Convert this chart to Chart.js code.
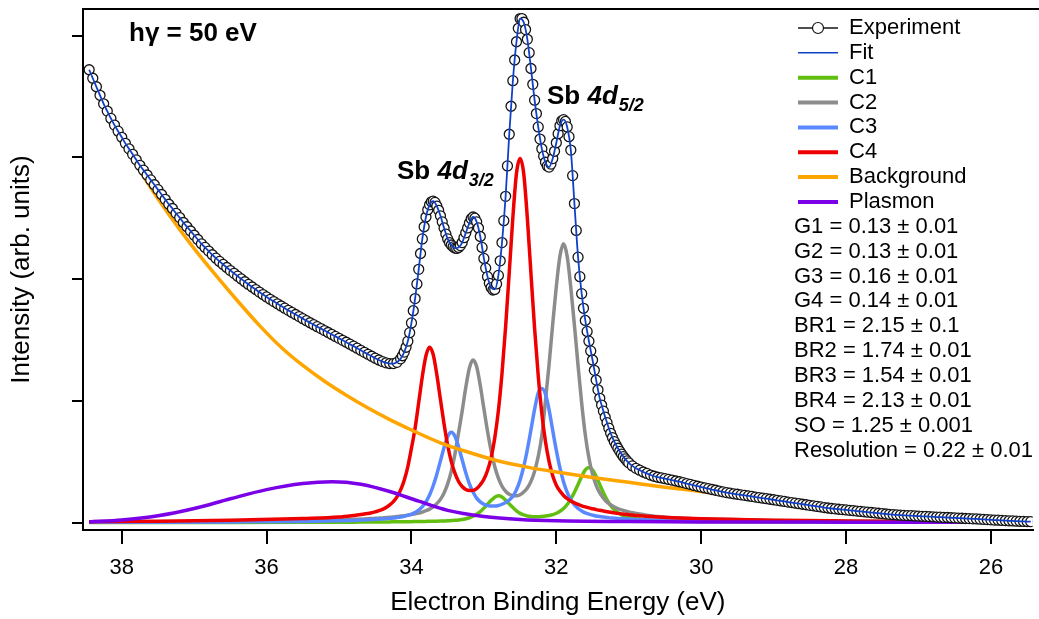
<!DOCTYPE html>
<html>
<head>
<meta charset="utf-8">
<script src="https://cdn.jsdelivr.net/npm/chart.js@4.4.1/dist/chart.umd.min.js"></script>
<style>
  html, body { margin: 0; padding: 0; background: #fff; }
  #spectrum { display: block; }
</style>
</head>
<body>
<canvas id="spectrum" width="1039" height="619"></canvas>
<script>
// binding energy axis (eV), drawn high -> low
const xTicks = [38, 36, 34, 32, 30, 28, 26];
const yTicks = [0, 1, 2, 3, 4];

// experiment, sampled every 0.05 eV from 38.45 eV down to 25.45 eV
const expStart = 38.45, expEnd = 25.45, expStep = 0.05;
const experiment = [
  3.72, 3.65, 3.58, 3.51, 3.44, 3.38, 3.32, 3.265, 3.215, 3.165,
  3.115, 3.07, 3.025, 2.98, 2.935, 2.895, 2.855, 2.815, 2.775, 2.735,
  2.695, 2.655, 2.615, 2.58, 2.54, 2.505, 2.465, 2.43, 2.395, 2.36,
  2.325, 2.29, 2.26, 2.23, 2.20, 2.172, 2.145, 2.12, 2.095, 2.07,
  2.047, 2.024, 2.001, 1.978, 1.956, 1.935, 1.914, 1.893, 1.873, 1.853,
  1.834, 1.815, 1.797, 1.779, 1.761, 1.743, 1.726, 1.709, 1.692, 1.675,
  1.658, 1.641, 1.625, 1.609, 1.593, 1.577, 1.561, 1.545, 1.529, 1.513,
  1.497, 1.481, 1.465, 1.449, 1.432, 1.415, 1.398,
  // 34.60 .. 30.60
  1.382, 1.366, 1.350, 1.335, 1.322, 1.312, 1.306, 1.306, 1.316, 1.345,
  1.40, 1.49, 1.64, 1.84, 2.08, 2.33, 2.51, 2.61, 2.64, 2.60,
  2.52, 2.42, 2.33, 2.28, 2.255, 2.26, 2.30, 2.38, 2.46, 2.51,
  2.47, 2.35, 2.17, 2.02, 1.93, 1.915, 2.03, 2.30, 2.68, 3.19,
  3.63, 3.95, 4.14, 4.11, 3.97, 3.73, 3.47, 3.25, 3.07, 2.96,
  2.92, 2.99, 3.12, 3.26, 3.31, 3.25, 3.06, 2.62, 2.18, 1.88,
  1.66, 1.49, 1.335, 1.17, 1.02, 0.915, 0.82, 0.733, 0.665, 0.61,
  0.562, 0.523, 0.49, 0.465, 0.445, 0.43, 0.415, 0.403, 0.39, 0.38,
  0.372,
  // 30.55 .. 25.45
  0.366, 0.360, 0.354, 0.348, 0.341, 0.335, 0.328, 0.320, 0.313, 0.305,
  0.298, 0.291, 0.284, 0.278, 0.271, 0.265, 0.258, 0.252, 0.246, 0.241,
  0.236, 0.232, 0.227, 0.223, 0.218, 0.214, 0.209, 0.205, 0.200, 0.196,
  0.191, 0.187, 0.182, 0.177, 0.173, 0.168, 0.164, 0.159, 0.155, 0.150,
  0.146, 0.141, 0.137, 0.132, 0.128, 0.123, 0.119, 0.115, 0.112, 0.109,
  0.106, 0.103, 0.100, 0.097, 0.094, 0.091, 0.088, 0.085, 0.082, 0.079,
  0.076, 0.073, 0.070, 0.067, 0.065, 0.062, 0.060, 0.059, 0.057, 0.056,
  0.054, 0.053, 0.051, 0.050, 0.048, 0.047, 0.045, 0.044, 0.042, 0.041,
  0.039, 0.038, 0.036, 0.035, 0.033, 0.032, 0.030, 0.029, 0.027, 0.026,
  0.024, 0.022, 0.020, 0.019, 0.017, 0.016, 0.014, 0.013, 0.011, 0.010,
  0.009, 0.008, 0.007
];
// extra experiment points in the peak region, 34.125 .. 31.025 eV
const midStart = 34.125, midEnd = 31.025;
const experimentMid = [
  1.37, 1.44, 1.56, 1.74, 1.96, 2.21, 2.43, 2.57, 2.635, 2.63,
  2.565, 2.47, 2.37, 2.30, 2.265, 2.252, 2.275, 2.34, 2.42, 2.495,
  2.50, 2.42, 2.26, 2.09, 1.965, 1.91, 1.96, 2.15, 2.48, 2.93,
  3.42, 3.80, 4.06, 4.14, 4.05, 3.86, 3.60, 3.36, 3.15, 3.01,
  2.93, 2.945, 3.05, 3.195, 3.30, 3.295, 3.17, 2.85, 2.40, 2.02,
  1.76, 1.57, 1.41, 1.25, 1.09, 0.965, 0.865, 0.775, 0.698, 0.636,
  0.585, 0.542, 0.506
];
const fit = experiment;

// components: tails + 0.05 eV grid 34.60 .. 30.60 + tails
const peakLeft = [38.45, 37.5, 36.5, 35.5, 35.0, 34.8];
const peakRight = [30.4, 30.0, 29.0, 28.0, 27.0, 26.0, 25.45];

const c1 = [
  0.001, 0.001, 0.001, 0.002, 0.003, 0.003,
  0.004, 0.004, 0.004, 0.005, 0.005, 0.005, 0.005, 0.006, 0.006, 0.006,
  0.006, 0.007, 0.007, 0.008, 0.008, 0.009, 0.009, 0.010, 0.010, 0.011,
  0.012, 0.013, 0.014, 0.016, 0.018, 0.021, 0.025, 0.031, 0.039, 0.051,
  0.068, 0.090, 0.118, 0.150, 0.182, 0.208, 0.219, 0.210, 0.184, 0.153,
  0.123, 0.096, 0.075, 0.062, 0.054, 0.050, 0.048, 0.048, 0.050, 0.053,
  0.058, 0.065, 0.076, 0.092, 0.115, 0.148, 0.192, 0.248, 0.312, 0.379,
  0.432, 0.452, 0.432, 0.378, 0.311, 0.245, 0.187, 0.140, 0.105, 0.080,
  0.063, 0.051, 0.043, 0.037, 0.032, 0.028, 0.025, 0.023, 0.021, 0.019,
  0.017,
  0.012, 0.008, 0.005, 0.003, 0.002, 0.002, 0.001
];
const c2 = [
  0.004, 0.006, 0.009, 0.015, 0.021, 0.026,
  0.031, 0.033, 0.034, 0.036, 0.038, 0.041, 0.043, 0.046, 0.050, 0.053,
  0.056, 0.061, 0.065, 0.071, 0.077, 0.086, 0.097, 0.110, 0.129, 0.155,
  0.190, 0.243, 0.317, 0.421, 0.562, 0.737, 0.915, 1.11, 1.27, 1.335,
  1.28, 1.125, 0.935, 0.750, 0.588, 0.458, 0.365, 0.298, 0.257, 0.232,
  0.221, 0.219, 0.228, 0.251, 0.284, 0.338, 0.420, 0.543, 0.716, 1.00,
  1.30, 1.63, 1.94, 2.19, 2.29, 2.185, 1.93, 1.62, 1.29, 0.98,
  0.72, 0.53, 0.395, 0.305, 0.243, 0.200, 0.167, 0.146, 0.128, 0.114,
  0.104, 0.095, 0.087, 0.080, 0.074, 0.069, 0.065, 0.060, 0.056, 0.052,
  0.049,
  0.040, 0.030, 0.017, 0.011, 0.008, 0.006, 0.005
];
const c3 = [
  0.002, 0.003, 0.005, 0.009, 0.014, 0.017,
  0.022, 0.024, 0.026, 0.028, 0.029, 0.032, 0.034, 0.037, 0.041, 0.045,
  0.051, 0.058, 0.069, 0.082, 0.101, 0.130, 0.170, 0.226, 0.302, 0.397,
  0.506, 0.617, 0.706, 0.741, 0.709, 0.623, 0.515, 0.409, 0.317, 0.25,
  0.20, 0.17, 0.15, 0.14, 0.135, 0.135, 0.14, 0.15, 0.165, 0.185,
  0.215, 0.27, 0.35, 0.46, 0.60, 0.763, 0.930, 1.063, 1.10, 1.055,
  0.926, 0.757, 0.592, 0.448, 0.333, 0.248, 0.187, 0.144, 0.115, 0.095,
  0.079, 0.069, 0.061, 0.054, 0.050, 0.045, 0.042, 0.038, 0.036, 0.033,
  0.031, 0.029, 0.028, 0.026, 0.025, 0.024, 0.023, 0.022, 0.021, 0.020,
  0.019,
  0.017, 0.013, 0.008, 0.005, 0.004, 0.003, 0.002
];
const c4 = [
  0.006, 0.010, 0.018, 0.033, 0.045, 0.058,
  0.074, 0.080, 0.087, 0.097, 0.108, 0.123, 0.144, 0.171, 0.210, 0.268,
  0.348, 0.459, 0.611, 0.775, 0.985, 1.20, 1.37, 1.44, 1.38, 1.215,
  1.01, 0.81, 0.635, 0.500, 0.405, 0.337, 0.296, 0.271, 0.263, 0.264,
  0.278, 0.310, 0.355, 0.427, 0.534, 0.694, 0.919, 1.226, 1.610, 2.054,
  2.508, 2.870, 2.99, 2.866, 2.500, 2.043, 1.595, 1.206, 0.895, 0.665,
  0.500, 0.385, 0.307, 0.258, 0.222, 0.196, 0.177, 0.161, 0.148, 0.137,
  0.128, 0.120, 0.113, 0.106, 0.100, 0.094, 0.089, 0.084, 0.079, 0.075,
  0.071, 0.067, 0.064, 0.061, 0.058, 0.056, 0.053, 0.051, 0.049, 0.047,
  0.045,
  0.039, 0.031, 0.019, 0.013, 0.009, 0.006, 0.005
];

const bgE = [38.45, 38.2, 37.9, 37.6, 37.3, 37.0, 36.7, 36.4, 36.1, 35.8, 35.5, 35.2,
  34.9, 34.6, 34.3, 34.0, 33.6, 33.2, 32.8, 32.4, 32.0, 31.5, 31.0, 30.5, 30.0,
  29.5, 29.0, 28.5, 28.0, 27.5, 27.0, 26.5, 26.0, 25.45];
const background = [3.71, 3.37, 3.04, 2.75, 2.49, 2.25, 2.03, 1.82, 1.62, 1.44, 1.29, 1.16,
  1.045, 0.94, 0.845, 0.76, 0.655, 0.575, 0.505, 0.455, 0.415, 0.37, 0.33, 0.29, 0.255,
  0.215, 0.175, 0.14, 0.105, 0.075, 0.05, 0.03, 0.018, 0.008];

const plasmonE = [38.45, 38.0, 37.5, 37.0, 36.5, 36.0, 35.5, 35.1, 34.7, 34.3, 33.9,
  33.5, 33.0, 32.5, 32.0, 31.0, 30.0, 28.0, 26.0, 25.45];
const plasmon = [0.005, 0.02, 0.055, 0.115, 0.195, 0.27, 0.32, 0.335, 0.315, 0.255, 0.175,
  0.10, 0.05, 0.025, 0.014, 0.008, 0.005, 0.003, 0.002, 0.002];

const legendLabels = ['Experiment', 'Fit', 'C1', 'C2', 'C3', 'C4', 'Background', 'Plasmon'];
const fitParams = [
  'G1 = 0.13 ± 0.01', 'G2 = 0.13 ± 0.01', 'G3 = 0.16 ± 0.01', 'G4 = 0.14 ± 0.01',
  'BR1 = 2.15 ± 0.1', 'BR2 = 1.74 ± 0.01', 'BR3 = 1.54 ± 0.01', 'BR4 = 2.13 ± 0.01',
  'SO = 1.25 ± 0.001', 'Resolution = 0.22 ± 0.01'
];

const family = "'Liberation Sans', Arial, Helvetica, sans-serif";

function grid(from, to, step) {
  const out = [];
  const n = Math.round((from - to) / step);
  for (let i = 0; i <= n; i++) out.push(+(from - i * step).toFixed(3));
  return out;
}
const expE = grid(expStart, expEnd, expStep);
const midE = grid(midStart, midEnd, expStep);
const peakE = [...peakLeft, ...grid(34.6, 30.6, 0.05), ...peakRight];
const pts = (xs, ys) => ys.map((y, i) => ({ x: xs[i], y: y }));
const expPoints = [...pts(expE, experiment), ...pts(midE, experimentMid)].sort((p, q) => q.x - p.x);

const colors = {
  Experiment: '#151515', Fit: '#1040c8', C1: '#62bf0f', C2: '#8c8c8c',
  C3: '#5a88ff', C4: '#ee0000', Background: '#ffa500', Plasmon: '#7b00e8'
};

function curve(label, xs, ys, order) {
  return {
    label: label, data: pts(xs, ys), order: order,
    borderColor: colors[label], borderWidth: 3.5, pointRadius: 0,
    cubicInterpolationMode: 'monotone', fill: false
  };
}

const overlay = {
  id: 'overlay',
  afterDraw(chart) {
    const c = chart.ctx, a = chart.chartArea;
    c.save();
    // top frame line
    c.strokeStyle = '#000';
    c.lineWidth = 2;
    c.beginPath();
    c.moveTo(a.left - 1, a.top);
    c.lineTo(chart.width, a.top);
    c.stroke();

    // legend
    c.font = '22px ' + family;
    c.fillStyle = '#000';
    c.textBaseline = 'middle';
    c.textAlign = 'left';
    const dy = 24.85;
    legendLabels.forEach((lab, i) => {
      const y = 28 + i * dy;
      c.strokeStyle = colors[lab];
      c.lineWidth = (lab === 'Experiment' || lab === 'Fit') ? 1.5 : 4;
      c.beginPath();
      c.moveTo(798, y);
      c.lineTo(838, y);
      c.stroke();
      if (lab === 'Experiment') {
        c.fillStyle = '#fff';
        c.lineWidth = 1.2;
        c.beginPath();
        c.arc(818, y, 5.5, 0, Math.PI * 2);
        c.fill();
        c.stroke();
        c.fillStyle = '#000';
      }
      c.fillText(lab, 849, y);
    });
    fitParams.forEach((t, i) => {
      c.fillText(t, 794, 28 + (legendLabels.length + i) * dy);
    });

    // annotations
    c.textBaseline = 'alphabetic';
    c.font = 'bold 26px ' + family;
    c.fillText('hγ = 50 eV', 129, 41);

    const sbLabel = (x, y, sub) => {
      c.font = 'bold 26px ' + family;
      c.fillText('Sb ', x, y);
      let w = c.measureText('Sb ').width;
      c.font = 'italic bold 26px ' + family;
      c.fillText('4d', x + w, y);
      w += c.measureText('4d').width;
      c.font = 'italic bold 18px ' + family;
      c.fillText(sub, x + w + 1, y + 7);
    };
    sbLabel(397, 179, '3/2');
    sbLabel(547, 104, '5/2');
    c.restore();
  }
};

new Chart(document.getElementById('spectrum'), {
  type: 'line',
  data: {
    datasets: [
      {
        label: 'Fit', data: pts(expE, fit), order: 0,
        borderColor: colors.Fit, borderWidth: 1.8, pointRadius: 0,
        cubicInterpolationMode: 'monotone', fill: false
      },
      {
        label: 'Experiment', data: expPoints, order: 1, showLine: false,
        pointRadius: 5, pointBorderWidth: 1.3, pointBorderColor: colors.Experiment,
        pointBackgroundColor: '#ffffff'
      },
      curve('Plasmon', plasmonE, plasmon, 2),
      curve('Background', bgE, background, 3),
      curve('C4', peakE, c4, 4),
      curve('C3', peakE, c3, 5),
      curve('C2', peakE, c2, 6),
      curve('C1', peakE, c1, 7)
    ]
  },
  options: {
    responsive: false,
    animation: false,
    devicePixelRatio: 1,
    layout: { padding: { top: 9, right: 1, bottom: 0, left: 0 } },
    plugins: { legend: { display: false }, tooltip: { enabled: false } },
    scales: {
      x: {
        type: 'linear', reverse: true, min: 25.423, max: 38.535,
        afterBuildTicks: s => { s.ticks = xTicks.map(v => ({ value: v })); },
        afterFit: s => { s.height = 89; },
        grid: { drawOnChartArea: false, drawTicks: true, tickLength: 14, color: '#000', lineWidth: 2 },
        border: { display: true, color: '#000', width: 2 },
        ticks: { color: '#000', font: { size: 22, family: family }, padding: 11, maxRotation: 0 },
        title: {
          display: true, text: 'Electron Binding Energy (eV)', color: '#000',
          font: { size: 26, family: family }, padding: { top: 0, bottom: 1 }
        }
      },
      y: {
        min: -0.0616, max: 4.219,
        afterBuildTicks: s => { s.ticks = yTicks.map(v => ({ value: v })); },
        afterFit: s => { s.width = 83; },
        grid: { drawOnChartArea: false, drawTicks: true, tickLength: 11, color: '#000', lineWidth: 2 },
        border: { display: true, color: '#000', width: 2 },
        ticks: { display: false },
        title: {
          display: true, text: 'Intensity (arb. units)', color: '#000',
          font: { size: 26, family: family }, padding: { top: 6, bottom: 0 }
        }
      }
    }
  },
  plugins: [overlay]
});
</script>
</body>
</html>
